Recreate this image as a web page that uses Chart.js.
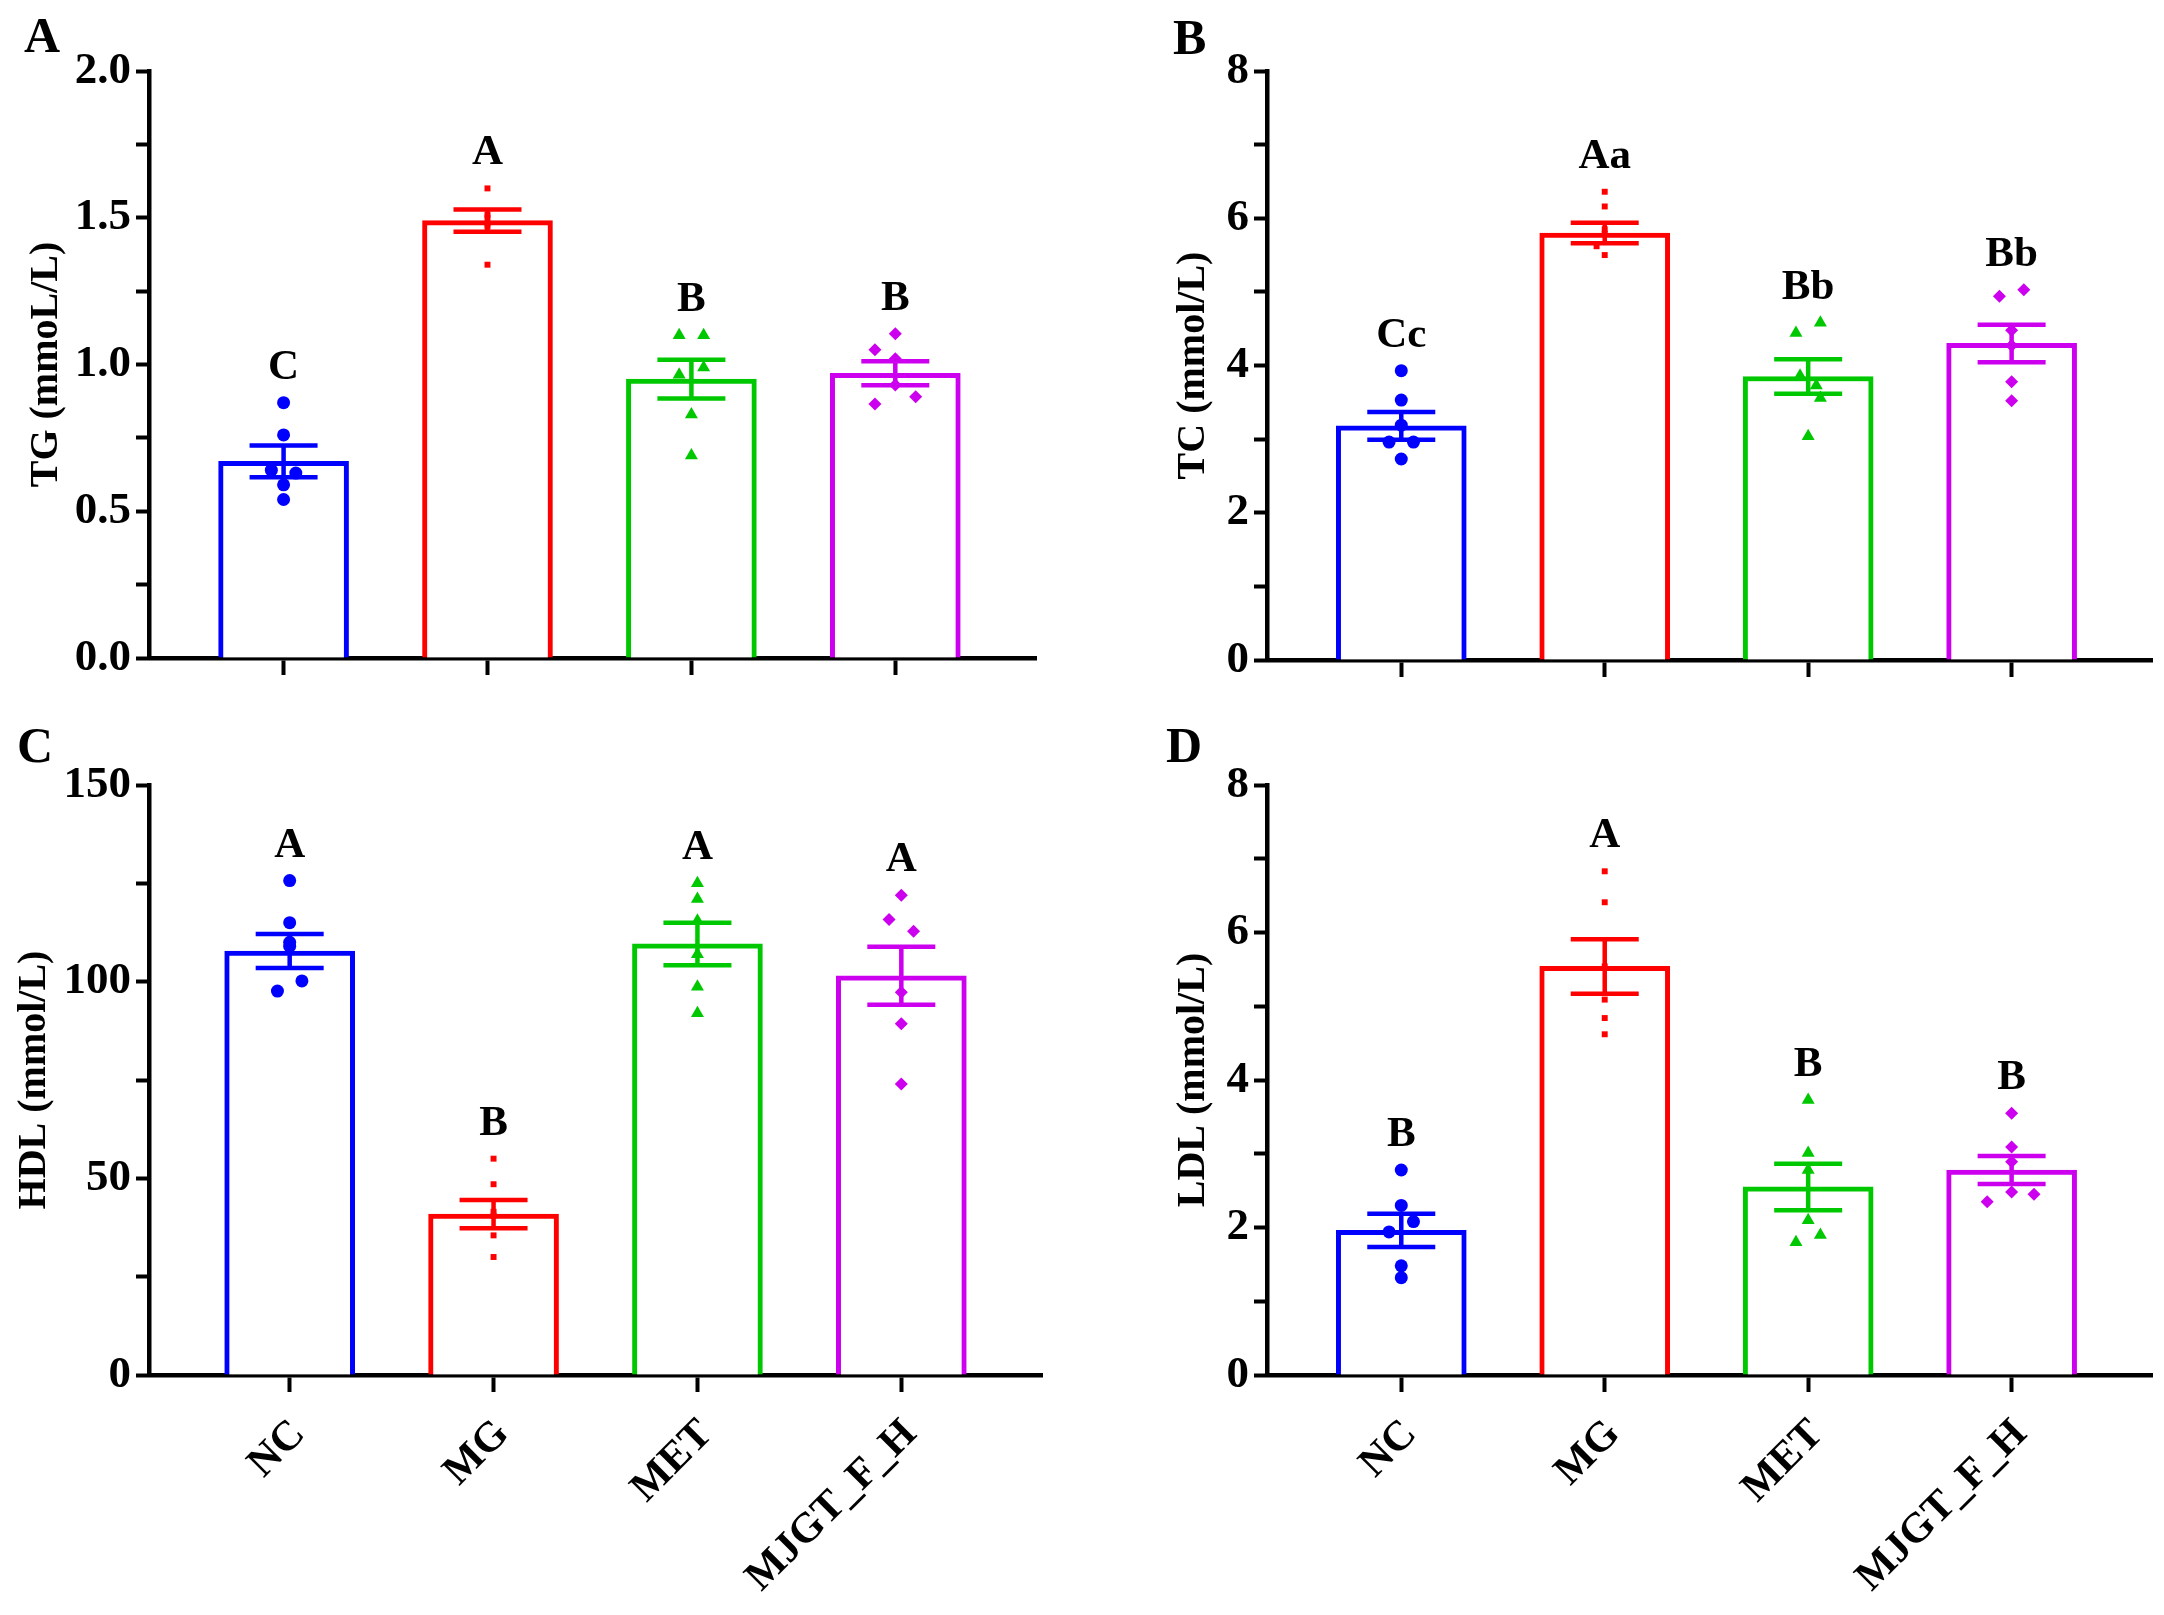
<!DOCTYPE html>
<html>
<head>
<meta charset="utf-8">
<script src="https://cdn.jsdelivr.net/npm/chart.js@4.4.1/dist/chart.umd.min.js"></script>
<style>
  body { margin: 0; background: #fff; width: 2164px; height: 1615px; position: relative; overflow: hidden; }
  .panel { position: absolute; }
  .tag { position: absolute; font: bold 50px 'Liberation Serif', serif; line-height: 1; color: #000; }
</style>
</head>
<body>
<div class="panel" style="left:0;top:0;width:1082px;height:720px"><canvas id="tg"></canvas></div>
<div class="panel" style="left:1082px;top:0;width:1082px;height:720px"><canvas id="tc"></canvas></div>
<div class="panel" style="left:0;top:720px;width:1082px;height:895px"><canvas id="hdl"></canvas></div>
<div class="panel" style="left:1082px;top:720px;width:1082px;height:895px"><canvas id="ldl"></canvas></div>
<div class="tag" style="left:24px;top:10px">A</div>
<div class="tag" style="left:1173px;top:12px">B</div>
<div class="tag" style="left:17px;top:720px">C</div>
<div class="tag" style="left:1166px;top:720px">D</div>

<script>
const groups = ['NC', 'MG', 'MET', 'MJGT_F_H'];
const colors = ['#0000FF', '#FF0000', '#00C800', '#CC00EE'];
const shapes = ['circle', 'rect', 'triangle', 'rectRot'];
const shapeRadius = [6.5, 4.2, 7.5, 6.5];

// TG
const tgMean = [0.67, 1.49, 0.95, 0.97];
const tgSem = [0.054, 0.038, 0.066, 0.041];
const tgPoints = [
    [0.87, 0.76, 0.64, 0.63, 0.59, 0.54],
    [1.60, 1.51, 1.50, 1.48, 1.47, 1.34],
    [1.10, 1.10, 0.99, 0.965, 0.83, 0.69],
    [1.105, 1.05, 1.02, 0.93, 0.89, 0.865]
];
const tgLetters = ['C', 'A', 'B', 'B'];
const tgTicks = [0, 0.5, 1.0, 1.5, 2.0];
const tgMinor = [0.25, 0.75, 1.25, 1.75];

// TC
const tcMean = [3.18, 5.80, 3.85, 4.30];
const tcSem = [0.19, 0.14, 0.235, 0.255];
const tcPoints = [
    [3.93, 3.53, 3.19, 2.96, 2.96, 2.73],
    [6.36, 6.16, 5.85, 5.79, 5.62, 5.50],
    [4.58, 4.44, 3.86, 3.73, 3.56, 3.04],
    [5.03, 4.94, 4.48, 4.27, 3.78, 3.52]
];
const tcLetters = ['Cc', 'Aa', 'Bb', 'Bb'];
const tcTicks = [0, 2, 4, 6, 8];
const tcMinor = [1, 3, 5, 7];

// HDL
const hdlMean = [107.8, 40.9, 109.6, 101.5];
const hdlSem = [4.3, 3.6, 5.4, 7.4];
const hdlPoints = [
    [125.7, 115.0, 109.0, 110.0, 100.2, 97.6],
    [55.0, 48.5, 41.5, 40.5, 35.5, 30.0],
    [125.0, 121.0, 115.5, 107.0, 98.7, 92.0],
    [122.0, 115.8, 112.8, 97.3, 89.3, 74.0]
];
const hdlLetters = ['A', 'B', 'A', 'A'];
const hdlTicks = [0, 50, 100, 150];
const hdlMinor = [25, 75, 125];

// LDL
const ldlMean = [1.96, 5.54, 2.55, 2.78];
const ldlSem = [0.225, 0.37, 0.315, 0.19];
const ldlPoints = [
    [2.78, 2.30, 2.08, 1.94, 1.48, 1.32],
    [6.83, 6.41, 5.54, 5.09, 4.84, 4.62],
    [3.73, 3.01, 2.78, 2.10, 1.90, 1.80],
    [3.55, 3.09, 2.89, 2.48, 2.45, 2.35]
];
const ldlLetters = ['B', 'A', 'B', 'B'];
const ldlTicks = [0, 2, 4, 6, 8];
const ldlMinor = [1, 3, 5, 7];

// horizontal spread of overlapping points (in category units)
const tgJitter = [[0, 0, -0.06, 0.06, 0, 0], [0, 0, 0, 0, 0, 0], [-0.06, 0.06, 0.06, -0.06, 0, 0], [0, -0.1, 0, 0, 0.1, -0.1]];
const tcJitter = [[0, 0, 0, -0.06, 0.06, 0], [0, 0, 0, 0, -0.04, 0], [0.06, -0.06, -0.04, 0.04, 0.06, 0], [0.06, -0.06, 0, 0, 0, 0]];
const hdlJitter = [[0, 0, 0, 0, 0.06, -0.06], [0, 0, 0, 0, 0, 0], [0, 0, 0, 0, 0, 0], [0, -0.06, 0.06, 0, 0, 0]];
const ldlJitter = [[0, 0, 0.06, -0.06, 0, 0], [0, 0, 0, 0, 0, 0], [0, 0, 0, 0, 0.06, -0.06], [0, 0, 0, 0, 0.11, -0.12]];

Chart.defaults.font.family = "'Liberation Serif', 'Times New Roman', serif";
Chart.defaults.font.weight = 'bold';
Chart.defaults.color = '#000';

const errorBars = {
    id: 'errorBars',
    afterDatasetDraw(chart, args, opts) {
        if (args.index !== 0) return;
        const { ctx, scales: { x, y } } = chart;
        ctx.save();
        ctx.lineWidth = 4.5;
        opts.means.forEach((m, i) => {
            const cx = x.getPixelForValue(i);
            const hi = y.getPixelForValue(m + opts.sems[i]);
            const lo = y.getPixelForValue(m - opts.sems[i]);
            ctx.strokeStyle = colors[i];
            ctx.beginPath();
            ctx.moveTo(cx, hi); ctx.lineTo(cx, lo);
            ctx.moveTo(cx - 34, hi); ctx.lineTo(cx + 34, hi);
            ctx.moveTo(cx - 34, lo); ctx.lineTo(cx + 34, lo);
            ctx.stroke();
        });
        ctx.restore();
    },
    afterDraw(chart, args, opts) {
        const { ctx, scales: { x, y } } = chart;
        ctx.save();
        ctx.font = "bold 43px 'Liberation Serif', serif";
        ctx.fillStyle = '#000';
        ctx.textAlign = 'center';
        ctx.textBaseline = 'alphabetic';
        opts.letters.forEach((t, i) => {
            const top = Math.max(Math.max(...opts.points[i]), opts.means[i] + opts.sems[i]);
            ctx.fillText(t, x.getPixelForValue(i), y.getPixelForValue(top) - 24);
        });
        ctx.restore();
    }
};

function makePanel(id, p) {
    const ctx = document.getElementById(id).getContext('2d');
    const datasets = [{
        type: 'bar',
        data: p.means.map((m, i) => ({ x: i, y: m })),
        backgroundColor: '#fff',
        borderColor: colors,
        borderWidth: 5,
        barThickness: 130,
        order: 2
    }];
    p.points.forEach((pts, i) => {
        datasets.push({
            type: 'scatter',
            data: pts.map((v, k) => ({ x: i + p.jitter[i][k], y: v })),
            pointStyle: shapes[i],
            pointRadius: shapeRadius[i],
            pointHoverRadius: shapeRadius[i],
            backgroundColor: colors[i],
            borderColor: colors[i],
            borderWidth: 0,
            order: 1
        });
    });

    return new Chart(ctx, {
        type: 'bar',
        data: { datasets: datasets },
        plugins: [errorBars],
        options: {
            responsive: true,
            maintainAspectRatio: false,
            animation: false,
            layout: { padding: { top: p.padTop, right: p.padRight, left: 0, bottom: 0 } },
            plugins: {
                legend: { display: false },
                tooltip: { enabled: false },
                errorBars: { means: p.means, sems: p.sems, letters: p.letters, points: p.points }
            },
            scales: {
                x: {
                    type: 'linear',
                    min: p.xMin,
                    max: 3.69,
                    offset: false,
                    afterBuildTicks: s => { s.ticks = groups.map((g, i) => ({ value: i })); },
                    afterFit: s => { s.height = p.xHeight; },
                    ticks: {
                        autoSkip: false,
                        callback: v => p.showLabels ? groups[v] : '',
                        font: { size: 42, weight: 'bold' },
                        minRotation: p.showLabels ? 45 : 0,
                        maxRotation: p.showLabels ? 45 : 0,
                        padding: 18,
                        labelOffset: 9
                    },
                    grid: { display: true, offset: false, drawOnChartArea: false, drawTicks: true, tickLength: 17, tickWidth: 4, tickColor: '#000' },
                    border: { display: true, width: 4.5, color: '#000' }
                },
                y: {
                    min: 0,
                    max: p.ticks[p.ticks.length - 1],
                    afterBuildTicks: s => { s.ticks = p.ticks.concat(p.minor).sort((a, b) => a - b).map(v => ({ value: v })); },
                    afterFit: s => { s.width = p.yWidth; },
                    ticks: {
                        autoSkip: false,
                        callback: v => p.ticks.includes(v) ? p.fmt(v) : '',
                        font: { size: 45, weight: 'bold' },
                        padding: 5
                    },
                    grid: { display: true, drawOnChartArea: false, drawTicks: true, tickLength: 13, tickWidth: 4, tickColor: '#000' },
                    border: { display: true, width: 4.5, color: '#000' },
                    title: {
                        display: true,
                        text: p.title,
                        font: { size: 40, weight: 'bold' },
                        padding: { top: p.titlePad, bottom: 0 }
                    }
                }
            }
        }
    });
}

makePanel('tg', {
    means: tgMean, sems: tgSem, points: tgPoints, letters: tgLetters, jitter: tgJitter,
    ticks: tgTicks, minor: tgMinor, fmt: v => v.toFixed(1), title: 'TG (mmoL/L)',
    padTop: 71, padRight: 46, yWidth: 149, xHeight: 62, titlePad: 23, showLabels: false, xMin: -0.66
});
makePanel('tc', {
    means: tcMean, sems: tcSem, points: tcPoints, letters: tcLetters, jitter: tcJitter,
    ticks: tcTicks, minor: tcMinor, fmt: v => String(v), title: 'TC (mmol/L)',
    padTop: 71, padRight: 12, yWidth: 185, xHeight: 60, titlePad: 88, showLabels: false, xMin: -0.66
});
makePanel('hdl', {
    means: hdlMean, sems: hdlSem, points: hdlPoints, letters: hdlLetters, jitter: hdlJitter,
    ticks: hdlTicks, minor: hdlMinor, fmt: v => String(v), title: 'HDL (mmol/L)',
    padTop: 65, padRight: 40, yWidth: 149, xHeight: 240, titlePad: 11, showLabels: true, xMin: -0.69
});
makePanel('ldl', {
    means: ldlMean, sems: ldlSem, points: ldlPoints, letters: ldlLetters, jitter: ldlJitter,
    ticks: ldlTicks, minor: ldlMinor, fmt: v => String(v), title: 'LDL (mmol/L)',
    padTop: 65, padRight: 12, yWidth: 185, xHeight: 240, titlePad: 88, showLabels: true, xMin: -0.66
});
</script>
</body>
</html>
